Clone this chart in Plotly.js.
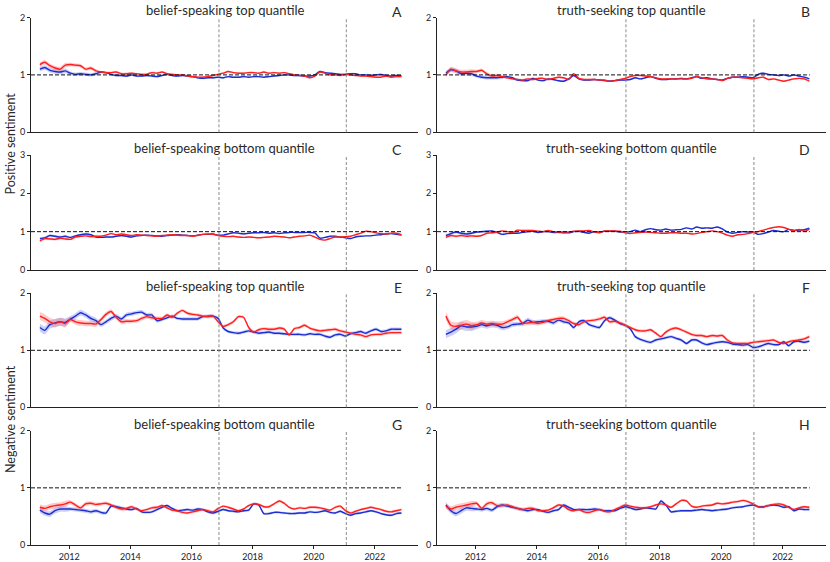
<!DOCTYPE html>
<html>
<head>
<meta charset="utf-8">
<script src="https://cdn.plot.ly/plotly-3.0.1.min.js"></script>
<style>html,body{margin:0;padding:0;background:#fff;}#chart{width:830px;height:562px;}</style>
</head>
<body>
<div id="chart"></div>
<script>
// ---- dates (every two months) ----
const dates = [
'2011-01-15','2011-03-15','2011-05-15','2011-07-15','2011-09-15','2011-11-15',
'2012-01-15','2012-03-15','2012-05-15','2012-07-15','2012-09-15','2012-11-15',
'2013-01-15','2013-03-15','2013-05-15','2013-07-15','2013-09-15','2013-11-15',
'2014-01-15','2014-03-15','2014-05-15','2014-07-15','2014-09-15','2014-11-15',
'2015-01-15','2015-03-15','2015-05-15','2015-07-15','2015-09-15','2015-11-15',
'2016-01-15','2016-03-15','2016-05-15','2016-07-15','2016-09-15','2016-11-15',
'2017-01-15','2017-03-15','2017-05-15','2017-07-15','2017-09-15','2017-11-15',
'2018-01-15','2018-03-15','2018-05-15','2018-07-15','2018-09-15','2018-11-15',
'2019-01-15','2019-03-15','2019-05-15','2019-07-15','2019-09-15','2019-11-15',
'2020-01-15','2020-03-15','2020-05-15','2020-07-15','2020-09-15','2020-11-15',
'2021-01-15','2021-03-15','2021-05-15','2021-07-15','2021-09-15','2021-11-15',
'2022-01-15','2022-03-15','2022-05-15','2022-07-15','2022-09-15','2022-11-15'
];
const xTickVals = ['2012-01-01','2014-01-01','2016-01-01','2018-01-01','2020-01-01','2022-01-01'];
const xTickText = ['2012','2014','2016','2018','2020','2022'];
const eventDates = ['2016-11-25','2021-01-25'];
const panelTitles = ['belief-speaking top quantile','truth-seeking top quantile',
  'belief-speaking bottom quantile','truth-seeking bottom quantile',
  'belief-speaking top quantile','truth-seeking top quantile',
  'belief-speaking bottom quantile','truth-seeking bottom quantile'];
const panelLetters = ['A','B','C','D','E','F','G','H'];
const rowTitles = ['Positive sentiment','Negative sentiment'];

// ---- series (red / blue) ----
const posBeliefTopRed = [
1.18,1.22,1.16,1.12,1.10,1.17,1.18,1.17,1.16,1.10,1.12,1.07,
1.05,1.04,1.04,1.05,1.02,1.02,1.03,1.02,1.01,1.01,1.04,1.03,
1.05,1.02,1.01,1.00,1.00,0.98,0.97,0.96,0.96,0.97,0.99,1.01,
1.03,1.06,1.04,1.03,1.03,1.04,1.04,1.03,1.05,1.03,1.04,1.03,
1.04,1.02,1.00,0.99,0.98,0.95,0.98,1.05,1.03,1.00,1.00,0.99,
1.01,1.00,0.99,0.98,0.98,0.97,0.96,0.96,0.98,0.96,0.97,0.97];
const posBeliefTopBlue = [
1.10,1.13,1.08,1.06,1.05,1.07,1.03,1.01,1.02,1.01,1.00,1.02,
1.05,1.04,1.01,0.99,0.99,0.98,1.00,0.98,0.98,0.99,0.98,0.97,
0.99,1.01,0.99,0.98,0.99,0.98,0.97,0.95,0.94,0.95,0.95,0.96,
0.95,0.97,0.96,0.96,0.97,0.96,0.97,0.97,0.96,0.97,0.98,0.99,
1.00,1.00,0.99,0.99,0.98,0.98,1.00,1.06,1.04,1.03,1.02,1.01,
1.01,1.02,1.02,1.00,1.00,0.99,1.00,1.01,0.99,0.98,0.99,0.98];
const posTruthTopRed = [
1.00,1.10,1.07,1.05,1.05,1.06,1.06,1.08,1.02,0.98,0.99,0.97,
0.95,0.93,0.92,0.91,0.93,0.92,0.94,0.94,0.92,0.94,0.96,0.95,
0.92,1.02,0.94,0.92,0.92,0.92,0.91,0.91,0.89,0.90,0.92,0.94,
0.97,0.99,0.99,0.98,0.97,0.95,0.93,0.93,0.93,0.93,0.93,0.93,
0.94,0.97,0.95,0.93,0.93,0.92,0.90,0.94,0.96,0.96,0.95,0.94,
0.93,0.95,0.96,0.92,0.93,0.91,0.89,0.91,0.93,0.94,0.93,0.89];
const posTruthTopBlue = [
1.03,1.09,1.07,1.02,1.03,1.02,0.98,0.96,0.95,0.95,0.95,0.96,
0.97,0.95,0.91,0.90,0.90,0.94,0.91,0.90,0.93,0.92,0.90,0.89,
0.93,0.99,0.93,0.91,0.91,0.92,0.91,0.90,0.89,0.90,0.91,0.91,
0.92,0.95,0.93,0.95,0.97,0.94,0.92,0.92,0.93,0.93,0.94,0.93,
0.95,0.97,0.94,0.95,0.93,0.92,0.91,0.94,0.96,0.96,0.97,0.96,
0.95,1.01,1.03,1.01,1.00,0.99,1.00,0.98,1.00,0.98,0.96,0.93];
const posBeliefBottomRed = [
0.76,0.82,0.81,0.80,0.83,0.81,0.80,0.86,0.88,0.89,0.87,0.88,
0.88,0.91,0.95,0.92,0.94,0.92,0.90,0.92,0.91,0.90,0.89,0.88,
0.90,0.91,0.92,0.91,0.90,0.90,0.88,0.90,0.93,0.94,0.93,0.90,
0.88,0.87,0.88,0.86,0.85,0.86,0.85,0.84,0.85,0.86,0.88,0.87,
0.86,0.84,0.86,0.88,0.89,0.91,0.86,0.80,0.78,0.82,0.86,0.86,
0.87,0.88,0.92,0.96,1.01,1.00,0.97,0.95,0.94,0.96,0.96,0.92];
const posBeliefBottomBlue = [
0.82,0.84,0.90,0.88,0.86,0.88,0.85,0.89,0.92,0.94,0.92,0.86,
0.85,0.86,0.86,0.88,0.90,0.88,0.86,0.89,0.90,0.91,0.90,0.89,
0.88,0.90,0.91,0.92,0.91,0.90,0.89,0.91,0.93,0.93,0.94,0.91,
0.91,0.94,0.97,0.96,0.94,0.96,0.97,0.97,0.98,0.96,0.97,0.95,
0.97,0.98,0.98,0.98,0.98,0.98,0.97,0.83,0.85,0.88,0.88,0.86,
0.84,0.82,0.86,0.88,0.89,0.89,0.91,0.92,0.94,0.95,0.93,0.91];
const posTruthBottomRed = [
0.85,0.90,0.88,0.90,0.88,0.89,0.88,0.90,0.96,0.97,0.99,1.02,
1.00,0.98,1.04,1.03,1.03,1.03,1.01,1.00,1.03,1.00,0.99,0.99,
0.99,1.01,1.02,1.02,1.03,0.99,0.97,1.02,1.02,1.02,1.01,0.97,
0.95,0.97,0.98,0.99,0.98,0.97,0.96,0.96,0.97,0.97,0.96,0.96,
0.94,0.95,0.98,1.00,1.02,1.00,0.96,0.91,0.88,0.92,0.93,0.95,
0.98,1.00,1.04,1.08,1.11,1.13,1.11,1.06,1.03,1.06,1.01,1.06];
const posTruthBottomBlue = [
0.90,0.95,0.99,0.96,0.94,0.96,0.99,1.00,1.01,1.02,0.98,0.93,
0.95,0.96,0.96,0.98,1.00,1.01,0.98,1.00,1.00,0.98,0.98,0.97,
0.97,1.00,1.01,0.98,0.96,1.00,0.99,1.01,1.01,1.01,0.99,0.99,
1.00,1.04,1.00,1.05,1.08,1.05,1.04,1.07,1.04,1.05,1.06,1.10,
1.07,1.12,1.09,1.10,1.09,1.12,1.07,0.99,0.96,0.98,1.00,0.99,
0.99,0.93,0.95,0.99,1.03,1.01,1.00,1.06,1.03,1.04,1.05,1.09];
const negBeliefTopRed = [
1.60,1.56,1.50,1.47,1.50,1.47,1.54,1.50,1.48,1.47,1.47,1.46,
1.54,1.63,1.68,1.58,1.50,1.51,1.51,1.52,1.56,1.59,1.57,1.56,
1.56,1.62,1.58,1.65,1.70,1.65,1.63,1.62,1.60,1.59,1.60,1.50,
1.42,1.45,1.50,1.59,1.58,1.40,1.32,1.36,1.38,1.37,1.37,1.39,
1.37,1.27,1.38,1.40,1.44,1.39,1.36,1.34,1.35,1.36,1.37,1.34,
1.32,1.30,1.28,1.27,1.24,1.27,1.28,1.28,1.30,1.31,1.31,1.31];
const negBeliefTopBlue = [
1.40,1.35,1.45,1.48,1.50,1.49,1.55,1.60,1.66,1.62,1.56,1.52,
1.45,1.50,1.56,1.60,1.55,1.62,1.64,1.66,1.67,1.62,1.62,1.52,
1.54,1.57,1.60,1.56,1.55,1.55,1.55,1.55,1.59,1.60,1.60,1.56,
1.39,1.33,1.31,1.30,1.32,1.34,1.32,1.30,1.31,1.32,1.30,1.30,
1.29,1.28,1.28,1.28,1.27,1.29,1.28,1.28,1.25,1.23,1.27,1.28,
1.25,1.29,1.31,1.33,1.30,1.34,1.37,1.33,1.34,1.37,1.37,1.37];
const negTruthTopRed = [
1.60,1.44,1.42,1.44,1.46,1.43,1.45,1.48,1.46,1.47,1.46,1.46,
1.50,1.54,1.58,1.47,1.48,1.49,1.47,1.49,1.52,1.54,1.56,1.56,
1.52,1.47,1.45,1.50,1.52,1.53,1.55,1.58,1.50,1.51,1.48,1.44,
1.40,1.36,1.34,1.34,1.36,1.30,1.24,1.32,1.37,1.39,1.36,1.32,
1.28,1.26,1.26,1.24,1.26,1.25,1.26,1.18,1.13,1.12,1.12,1.12,
1.14,1.15,1.16,1.17,1.18,1.14,1.12,1.15,1.17,1.18,1.20,1.24];
const negTruthTopBlue = [
1.28,1.32,1.37,1.43,1.41,1.41,1.42,1.45,1.43,1.45,1.44,1.40,
1.41,1.45,1.46,1.47,1.53,1.49,1.50,1.51,1.51,1.48,1.53,1.50,
1.48,1.40,1.50,1.52,1.45,1.42,1.40,1.52,1.57,1.53,1.47,1.44,
1.38,1.24,1.19,1.16,1.14,1.18,1.20,1.22,1.24,1.21,1.18,1.12,
1.18,1.18,1.13,1.10,1.12,1.14,1.15,1.14,1.11,1.10,1.09,1.10,
1.05,1.06,1.09,1.12,1.10,1.10,1.15,1.08,1.15,1.16,1.14,1.16];
const negBeliefBottomRed = [
0.66,0.64,0.67,0.69,0.70,0.72,0.75,0.70,0.65,0.72,0.73,0.71,
0.72,0.73,0.70,0.66,0.63,0.64,0.67,0.63,0.60,0.62,0.65,0.66,
0.69,0.65,0.61,0.60,0.57,0.56,0.58,0.60,0.62,0.60,0.58,0.64,
0.68,0.66,0.63,0.60,0.63,0.69,0.72,0.71,0.67,0.67,0.72,0.77,
0.73,0.66,0.63,0.65,0.64,0.66,0.66,0.65,0.63,0.61,0.66,0.68,
0.60,0.56,0.59,0.62,0.64,0.66,0.64,0.62,0.59,0.58,0.60,0.62];
const negBeliefBottomBlue = [
0.61,0.56,0.54,0.60,0.63,0.63,0.63,0.62,0.61,0.60,0.58,0.60,
0.57,0.56,0.68,0.67,0.65,0.63,0.62,0.64,0.58,0.57,0.58,0.62,
0.66,0.69,0.64,0.60,0.61,0.62,0.61,0.63,0.62,0.58,0.56,0.59,
0.62,0.60,0.59,0.58,0.60,0.61,0.72,0.70,0.55,0.55,0.57,0.57,
0.56,0.55,0.55,0.56,0.56,0.58,0.57,0.58,0.60,0.57,0.56,0.59,
0.55,0.52,0.55,0.56,0.58,0.60,0.58,0.55,0.53,0.52,0.55,0.56];
const negTruthBottomRed = [
0.68,0.63,0.66,0.68,0.70,0.72,0.73,0.64,0.72,0.74,0.69,0.69,
0.70,0.67,0.64,0.62,0.64,0.64,0.60,0.60,0.61,0.65,0.70,0.68,
0.62,0.60,0.62,0.58,0.57,0.60,0.62,0.59,0.58,0.62,0.66,0.70,
0.68,0.66,0.65,0.65,0.67,0.70,0.72,0.70,0.66,0.72,0.78,0.77,
0.68,0.66,0.68,0.69,0.70,0.73,0.72,0.73,0.75,0.76,0.78,0.76,
0.72,0.67,0.66,0.69,0.71,0.72,0.70,0.66,0.62,0.65,0.67,0.66];
const negTruthBottomBlue = [
0.70,0.60,0.55,0.60,0.65,0.64,0.63,0.62,0.64,0.61,0.67,0.70,
0.68,0.66,0.64,0.62,0.60,0.62,0.62,0.59,0.57,0.60,0.62,0.70,
0.66,0.62,0.62,0.62,0.62,0.63,0.62,0.60,0.60,0.60,0.64,0.67,
0.65,0.62,0.63,0.65,0.64,0.63,0.77,0.70,0.58,0.59,0.60,0.60,
0.60,0.61,0.62,0.61,0.60,0.61,0.62,0.63,0.65,0.66,0.67,0.69,
0.70,0.67,0.67,0.69,0.70,0.69,0.66,0.67,0.60,0.63,0.62,0.62];

// ---- confidence band half-widths, one per year 2011..2022 ----
const bandPosTop    = [0.040,0.030,0.020,0.018,0.015,0.015,0.015,0.015,0.015,0.015,0.015,0.015];
const bandPosBottom = [0.035,0.025,0.018,0.015,0.012,0.012,0.012,0.012,0.012,0.012,0.012,0.012];
const bandNegTop    = [0.070,0.050,0.040,0.035,0.030,0.030,0.028,0.028,0.028,0.028,0.028,0.028];
const bandNegBottom = [0.050,0.035,0.030,0.025,0.025,0.025,0.022,0.022,0.022,0.022,0.022,0.022];

const panels = [
  {red: posBeliefTopRed,    blue: posBeliefTopBlue,    band: bandPosTop,    ymax: 2},
  {red: posTruthTopRed,     blue: posTruthTopBlue,     band: bandPosTop,    ymax: 2},
  {red: posBeliefBottomRed, blue: posBeliefBottomBlue, band: bandPosBottom, ymax: 3},
  {red: posTruthBottomRed,  blue: posTruthBottomBlue,  band: bandPosBottom, ymax: 3},
  {red: negBeliefTopRed,    blue: negBeliefTopBlue,    band: bandNegTop,    ymax: 2},
  {red: negTruthTopRed,     blue: negTruthTopBlue,     band: bandNegTop,    ymax: 2},
  {red: negBeliefBottomRed, blue: negBeliefBottomBlue, band: bandNegBottom, ymax: 2},
  {red: negTruthBottomRed,  blue: negTruthBottomBlue,  band: bandNegBottom, ymax: 2}
];

const W = 830, H = 562;
const colX = [[31, 418], [437, 826]];
const rowY = [[17.5, 132.3], [155, 270], [293.3, 407.3], [430.7, 545]];
const xRange = ['2010-10-01', '2023-06-01'];

const RED = '#ff1f1f', BLUE = '#1c2ed0';
const RED_BAND = 'rgba(255,90,90,0.32)', BLUE_BAND = 'rgba(90,110,235,0.32)';

const traces = [];
const layout = {
  width: W, height: H,
  margin: {l: 0, r: 0, t: 0, b: 0},
  paper_bgcolor: '#fff', plot_bgcolor: '#fff',
  showlegend: false,
  font: {family: 'Lato, "DejaVu Sans", sans-serif', color: '#222', size: 9},
  shapes: [], annotations: []
};

panels.forEach((p, k) => {
  const row = Math.floor(k / 2), col = k % 2;
  const n = k + 1;
  const xa = 'x' + (n === 1 ? '' : n), ya = 'y' + (n === 1 ? '' : n);
  const xKey = 'xaxis' + (n === 1 ? '' : n), yKey = 'yaxis' + (n === 1 ? '' : n);
  const [x0, x1] = colX[col];
  const [yt, yb] = rowY[row];
  const bottomRow = row === 3;

  layout[xKey] = {
    domain: [x0 / W, x1 / W], anchor: ya, type: 'date', range: xRange,
    showgrid: false, zeroline: false, showline: true, linecolor: '#222', linewidth: 1,
    ticks: bottomRow ? 'outside' : '', ticklen: 3, tickcolor: '#222',
    tickvals: xTickVals, ticktext: xTickText, showticklabels: bottomRow,
    tickfont: {size: 9, color: '#222'}
  };
  const yt_vals = p.ymax === 3 ? [0, 1, 2, 3] : [0, 1, 2];
  layout[yKey] = {
    domain: [1 - yb / H, 1 - yt / H], anchor: xa, range: [0, p.ymax],
    showgrid: false, zeroline: false, showline: true, linecolor: '#222', linewidth: 1,
    ticks: 'outside', ticklen: 3, tickcolor: '#222',
    tickvals: yt_vals, ticktext: yt_vals.map(String),
    tickfont: {size: 9, color: '#222'}
  };

  const addBand = (vals, color) => {
    const lo = vals.map((v, i) => v - p.band[Math.floor(i / 6)]);
    const hi = vals.map((v, i) => v + p.band[Math.floor(i / 6)]);
    traces.push({x: dates, y: lo, xaxis: xa, yaxis: ya, mode: 'lines',
      line: {width: 0, color: color, shape: 'spline', smoothing: 0.6}, hoverinfo: 'skip'});
    traces.push({x: dates, y: hi, xaxis: xa, yaxis: ya, mode: 'lines', fill: 'tonexty',
      fillcolor: color, line: {width: 0, color: color, shape: 'spline', smoothing: 0.6}, hoverinfo: 'skip'});
  };
  addBand(p.blue, BLUE_BAND);
  addBand(p.red, RED_BAND);
  traces.push({x: dates, y: p.blue, xaxis: xa, yaxis: ya, mode: 'lines',
    line: {color: BLUE, width: 1.4, shape: 'spline', smoothing: 0.6}});
  traces.push({x: dates, y: p.red, xaxis: xa, yaxis: ya, mode: 'lines',
    line: {color: RED, width: 1.4, shape: 'spline', smoothing: 0.6}});

  // reference line at 1
  layout.shapes.push({type: 'line', xref: xa, yref: ya, x0: xRange[0], x1: '2022-11-20', y0: 1, y1: 1,
    line: {color: '#111', width: 1, dash: '4px,2px'}});
  // event lines
  eventDates.forEach(d => {
    layout.shapes.push({type: 'line', xref: xa, yref: ya + ' domain', x0: d, x1: d, y0: 0, y1: 1,
      line: {color: '#8a8a8a', width: 1, dash: '3px,2px'}});
  });

  // panel title
  layout.annotations.push({text: panelTitles[k], xref: 'paper', yref: 'paper',
    x: ((x0 + x1) / 2) / W, y: 1 - (yt - 7) / H, xanchor: 'center', yanchor: 'middle',
    showarrow: false, font: {size: 13, color: '#2a2a2a'}});
  // panel letter
  layout.annotations.push({text: panelLetters[k], xref: 'paper', yref: 'paper',
    x: (x1 - 14) / W, y: 1 - (yt - 6) / H, xanchor: 'right', yanchor: 'middle',
    showarrow: false, font: {size: 14, color: '#2a2a2a'}});
});

layout.annotations.push({text: rowTitles[0], xref: 'paper', yref: 'paper', x: 10 / W, y: 1 - 143.5 / H,
  textangle: -90, showarrow: false, xanchor: 'center', yanchor: 'middle', font: {size: 12.5, color: '#2a2a2a'}});
layout.annotations.push({text: rowTitles[1], xref: 'paper', yref: 'paper', x: 10 / W, y: 1 - 419 / H,
  textangle: -90, showarrow: false, xanchor: 'center', yanchor: 'middle', font: {size: 12.5, color: '#2a2a2a'}});

Plotly.newPlot('chart', traces, layout, {staticPlot: true, displayModeBar: false});
</script>
</body>
</html>
